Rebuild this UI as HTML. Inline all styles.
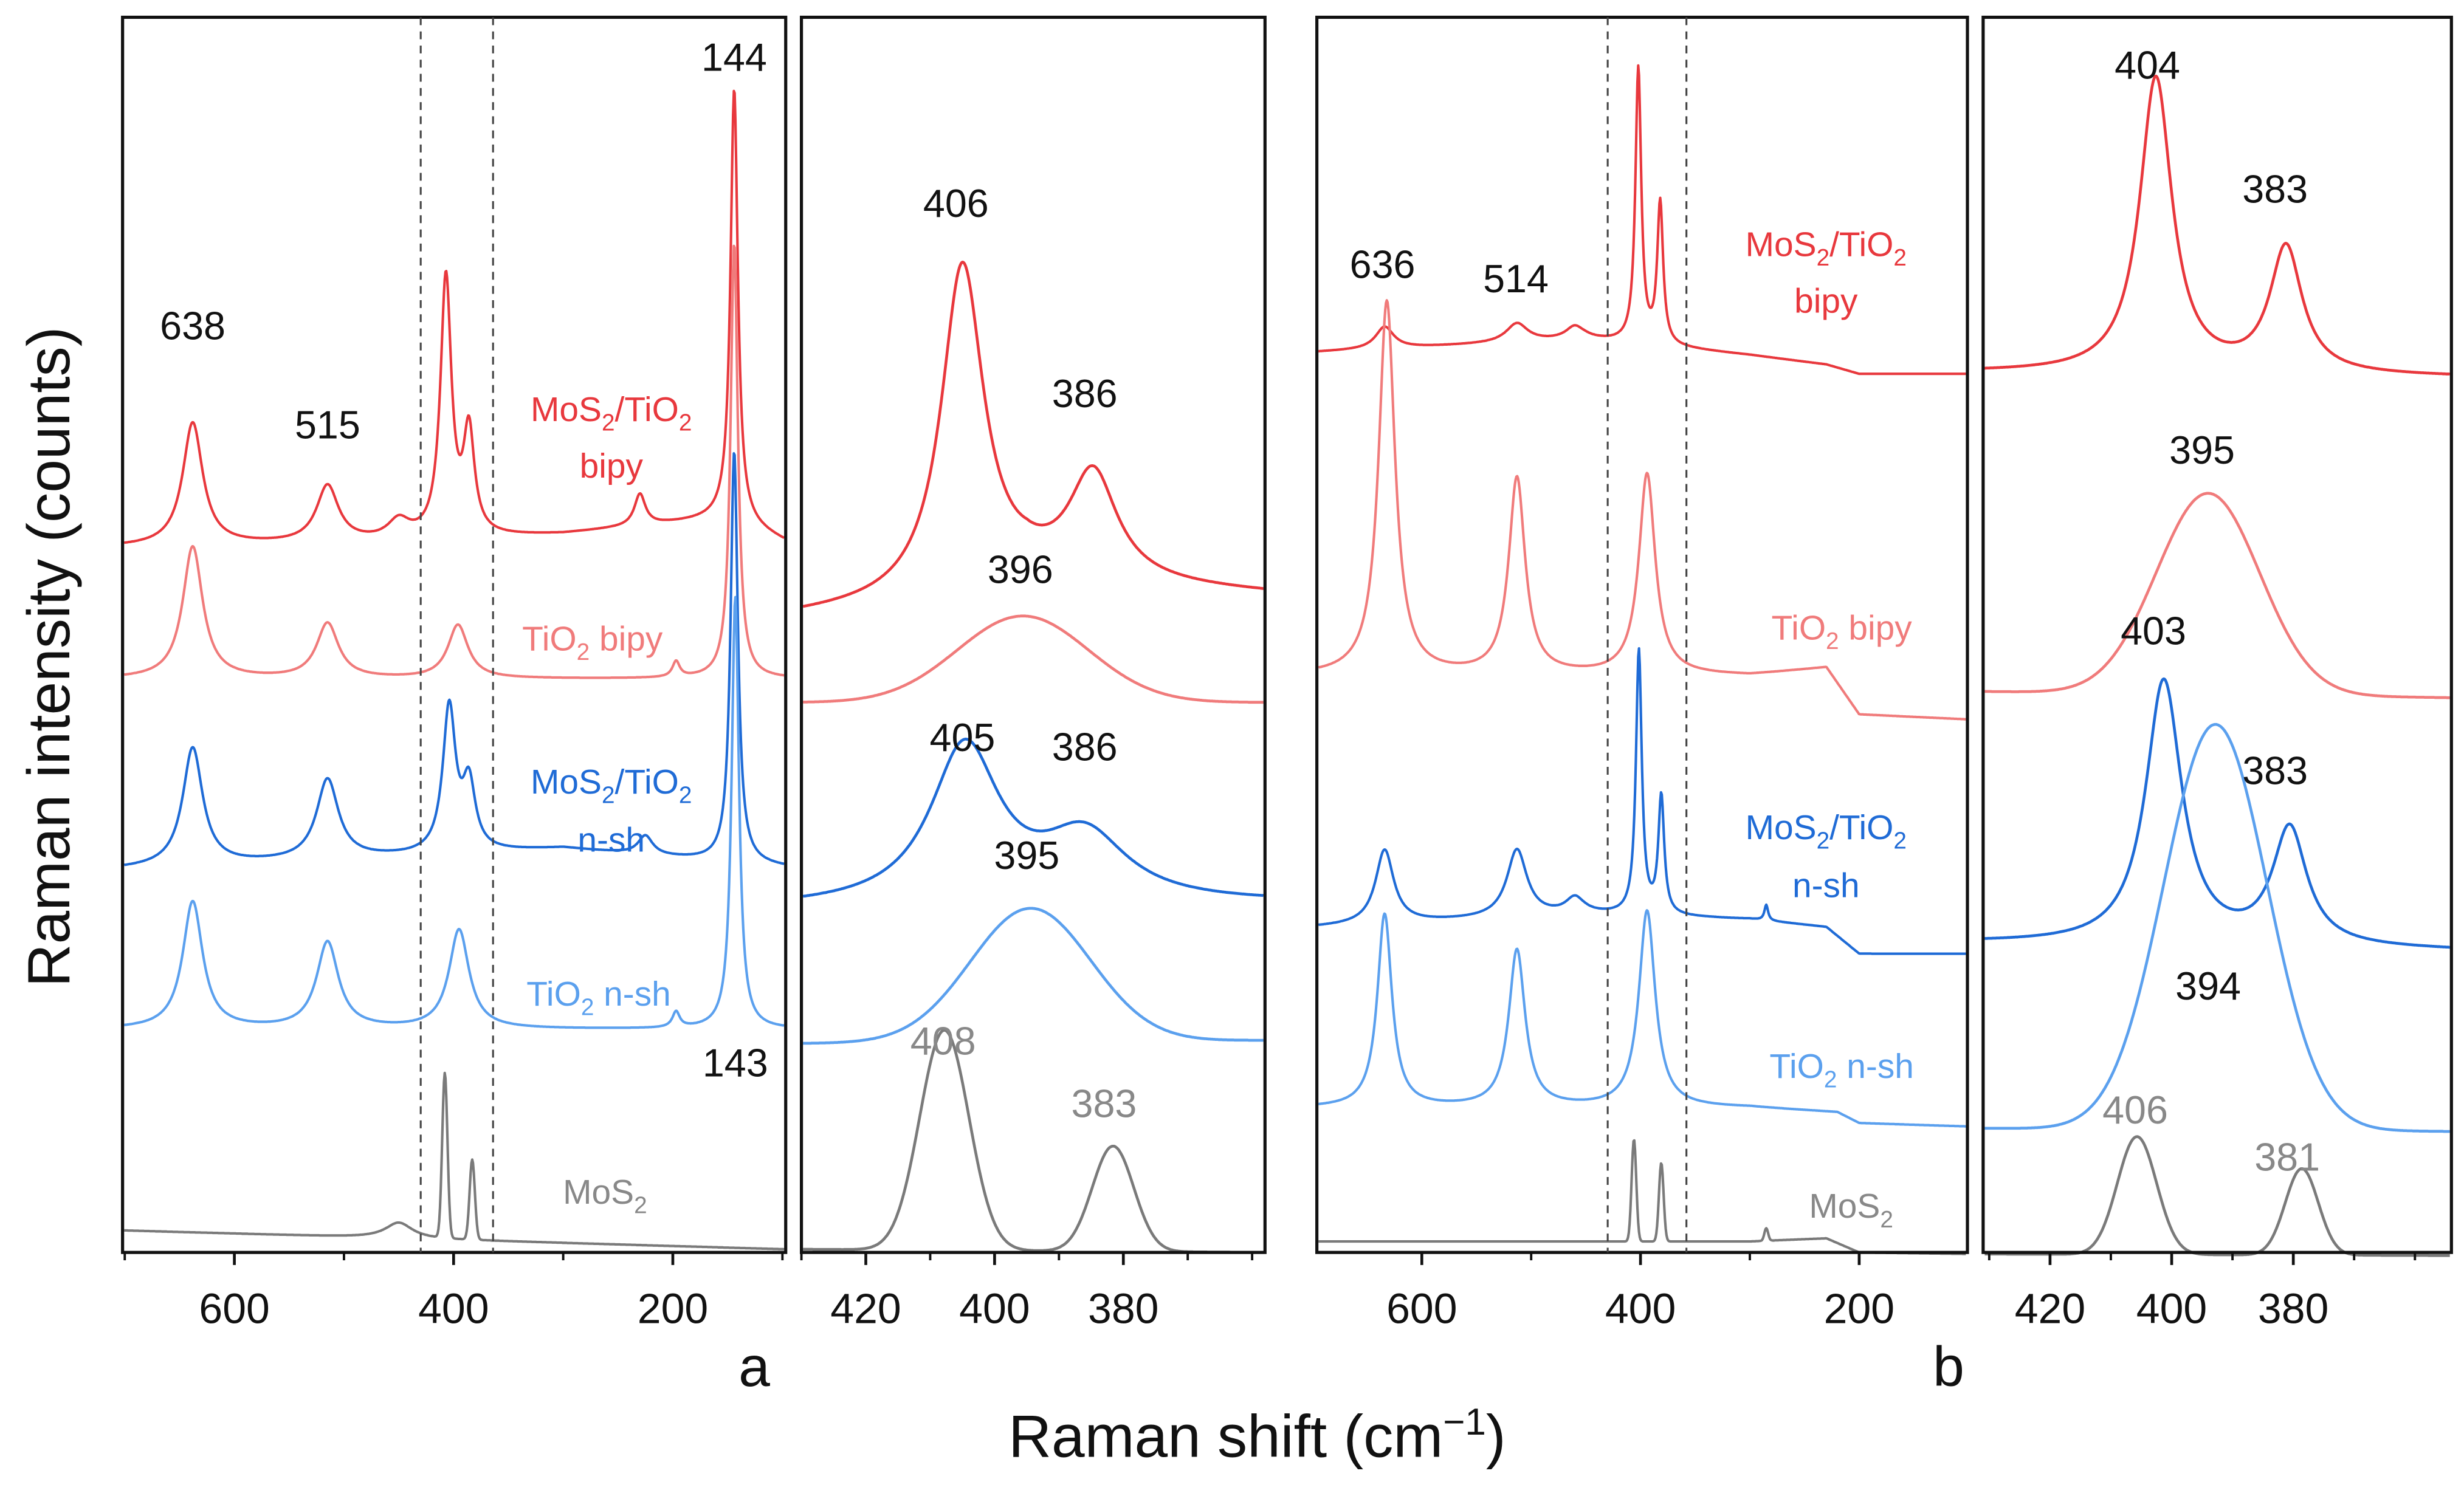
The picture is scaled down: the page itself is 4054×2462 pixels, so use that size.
<!DOCTYPE html>
<html><head><meta charset="utf-8"><style>
html,body{margin:0;padding:0;background:#fff}
svg{display:block}
text{font-family:"Liberation Sans",sans-serif}
</style></head><body>
<svg id="fig" width="4054" height="2462" viewBox="0 0 1568 952" preserveAspectRatio="none" xmlns="http://www.w3.org/2000/svg"></svg>
<script>
// ---- data ----
const panelRanges = [[702,97],[430,358],[696,101],[431,354]];
const panelTicks = [[600,400,200],[420,400,380],[600,400,200],[420,400,380]];
const seriesNames = ['mos2-tio2-bipy','tio2-bipy','mos2-tio2-nsh','tio2-nsh','mos2'];
const seriesColors = ['#e8383d','#f07b7b','#1f6bd6','#5ba0ee','#7a7a7a'];
// baselines: [shift, y] knots per panel per series
const baseP1 = [
 [[702,348],[450,345],[300,340],[230,335],[150,330],[97,345]],
 [[702,432],[97,432]],
 [[702,553],[440,545],[300,540],[97,552]],
 [[702,655],[97,655]],
 [[702,783],[97,795]]];
const peaksP1 = [ // [pos, height, hwhm, gauss?]
 [[638,78,11,0],[515,36,12,0],[450,12,12,0],[407,165,6,0],[386,65,6,0],[230,20,6,0],[144,275,4,0]],
 [[638,84,11,0],[515,35,12,0],[396,34,11,0],[197,10,4,0],[144,277,4,0]],
 [[638,75,11,0],[515,51,12,0],[404,92,7,0],[386,42,7,0],[225,12,8,0],[144,262,4,0]],
 [[638,81,11,0],[515,55,12,0],[395,63,11,0],[197,10,4,0],[143,275,4,0]],
 [[450,10,15,0],[408,105,2.8,1],[383,51,2.8,1]]];
const baseP2 = [
 [[430,392],[410,385],[395,370],[358,378]],
 [[430,447],[358,447]],
 [[430,578],[358,575]],
 [[430,664],[358,662]],
 [[430,795],[358,797]]];
const peaksP2 = [
 [[405,210,4,0],[384.7,68,4.5,0]],
 [[395.6,55,12,1]],
 [[404.6,100,6.5,0],[386,42,8,0]],
 [[394.4,85,11,1]],
 [[407.8,140,4.5,1],[381.6,67,3.8,1]]];
const baseP3 = [
 [[696,224],[450,216],[300,226],[230,232],[200,238],[101,238]],
 [[696,430],[300,430],[230,425],[200,455],[101,458]],
 [[696,590],[450,582],[300,585],[230,590],[200,607],[101,607]],
 [[696,705],[300,705],[220,708],[200,715],[101,717]],
 [[696,790],[300,790],[230,788],[200,797],[101,798]]];
const peaksP3 = [
 [[634,14,10,0],[513,12,12,0],[460,8,10,0],[402,175,3.2,0],[382,90,3.2,0]],
 [[632,238,9,0],[513,125,9,0],[394,128,9,0]],
 [[634,47,10,0],[513,43,11,0],[460,10,10,0],[401.5,168,3.2,0],[381,75,3.2,0],[285,10,2,0]],
 [[634,123,8,0],[513,100,9,0],[394,125,9,0]],
 [[406,65,2.5,1],[381,50,2.5,1],[285,8,2,1]]];
const baseP4 = [
 [[431,237],[354,240]],
 [[431,440],[354,444]],
 [[431,600],[354,605]],
 [[431,718],[354,720]],
 [[431,798],[354,799]]];
const peaksP4 = [
 [[402.6,188,3.2,0],[381.2,80,3.2,0]],
 [[394,128,10,1]],
 [[401.3,168,3.6,0],[380.6,74,3.4,0]],
 [[392.8,258,10,1]],
 [[405.7,75,3.8,1],[378.6,55,3.2,1]]];
const panelBases=[baseP1,baseP2,baseP3,baseP4];
const panelPeaks=[peaksP1,peaksP2,peaksP3,peaksP4];
const peakLabels = [ // [panel, shift, y, text, color]
 [0,638,216,'638','#111'],[0,515,279,'515','#111'],[0,144,45,'144','#111'],[0,143,685,'143','#111'],
 [1,406,138,'406','#111'],[1,386,259,'386','#111'],[1,396,371,'396','#111'],[1,405,478,'405','#111'],[1,386,484,'386','#111'],[1,395,553,'395','#111'],[1,408,671,'408','#888'],[1,383,711,'383','#888'],
 [2,636,177,'636','#111'],[2,514,186,'514','#111'],
 [3,404,50,'404','#111'],[3,383,129,'383','#111'],[3,395,295,'395','#111'],[3,403,410,'403','#111'],[3,383,499,'383','#111'],[3,394,636,'394','#111'],[3,406,715,'406','#888'],[3,381,745,'381','#888']];
// ---- drawing ----
const NS='http://www.w3.org/2000/svg';
const svg=document.getElementById('fig');
const frames=[[78,500],[510,805],[838,1252],[1262,1560]];
const TOP=11,BOT=797;
function el(t,a,p){const e=document.createElementNS(NS,t);for(const k in a)e.setAttribute(k,a[k]);(p||svg).appendChild(e);return e;}
function xs(p,v){const [a,b]=panelRanges[p];const [l,r]=frames[p];return l+(a-v)/(a-b)*(r-l);}
function interp(knots,v){for(let i=0;i<knots.length-1;i++){const [a,ya]=knots[i],[b,yb]=knots[i+1];if(v<=a&&v>=b)return ya+(yb-ya)*(a-v)/(a-b);}return knots[knots.length-1][1];}
function prof(pk,v){const d=(v-pk[0])/pk[2];return pk[3]?pk[1]*Math.exp(-0.693*d*d):pk[1]/(1+d*d);}
for(let p=0;p<4;p++){
 const g=el('g',{});
 
 
 const [l,r]=frames[p];
 for(let s=0;s<5;s++){
  let d='';
  for(let x=l+1;x<=r-1;x+=0.5){
   const [a,b]=panelRanges[p];const v=a-(x-l)/(r-l)*(a-b);
   let y=interp(panelBases[p][s],v);
   for(const pk of panelPeaks[p][s])y-=prof(pk,v);
   d+=(d?'L':'M')+x.toFixed(1)+' '+y.toFixed(1);
  }
  const path=el('path',{d:d,fill:'none',stroke:seriesColors[s],'stroke-width':p%2?1.8:1.6,'stroke-linejoin':'round'},g);
  
  
 }
 const fr=el('rect',{x:l,y:TOP,width:r-l,height:BOT-TOP,fill:'none',stroke:'#111','stroke-width':2},g);
 
 
 for(const t of panelTicks[p]){
  const x=xs(p,t);
  el('line',{x1:x,x2:x,y1:BOT,y2:BOT+8,stroke:'#111','stroke-width':1.8},g);
  const tx=el('text',{x:x,y:842,'font-size':27,'text-anchor':'middle',fill:'#111'},g);
  tx.textContent=t;
  
  
 }
 const step=(p%2)?10:100;const [a,b]=panelRanges[p];
 for(let t=Math.ceil(b/step)*step;t<=a;t+=step){if(panelTicks[p].includes(t))continue;const x=xs(p,t);el('line',{x1:x,x2:x,y1:BOT,y2:BOT+5,stroke:'#111','stroke-width':1.5},g);}
}
// dashed lines
for(const [p,v] of [[0,430],[0,364],[2,430],[2,358]]){
 const x=xs(p,v);
 const ln=el('line',{x1:x,x2:x,y1:TOP,y2:BOT,stroke:'#444','stroke-width':1.2,'stroke-dasharray':'5,4'});
 
 
}
for(const [p,v,y,t,c] of peakLabels){
 const tx=el('text',{x:xs(p,v),y:y,'font-size':25,'text-anchor':'middle',fill:c});
 tx.textContent=t;
 
 
}
</script>
<script>
// series name labels (with subscripts)
(function(){
const NS='http://www.w3.org/2000/svg';const svg=document.getElementById('fig');
const labs=[[389,268,'MoS|2|/TiO|2|','#e8383d'],[389,304,'bipy','#e8383d'],[377,414,'TiO|2| bipy','#f07b7b'],
[389,505,'MoS|2|/TiO|2|','#1f6bd6'],[389,542,'n-sh','#1f6bd6'],[381,640,'TiO|2| n-sh','#5ba0ee'],[385,766,'MoS|2|','#888'],
[1162,163,'MoS|2|/TiO|2|','#e8383d'],[1162,199,'bipy','#e8383d'],[1172,407,'TiO|2| bipy','#f07b7b'],
[1162,534,'MoS|2|/TiO|2|','#1f6bd6'],[1162,571,'n-sh','#1f6bd6'],[1172,686,'TiO|2| n-sh','#5ba0ee'],[1178,775,'MoS|2|','#888']];
for(const [x,y,s,c] of labs){
 const t=document.createElementNS(NS,'text');
 t.setAttribute('x',x);t.setAttribute('y',y);t.setAttribute('font-size',22);t.setAttribute('text-anchor','middle');t.setAttribute('fill',c);
 s.split('|').forEach((part,i)=>{const ts=document.createElementNS(NS,'tspan');ts.textContent=part;if(i%2){ts.setAttribute('font-size',15);ts.setAttribute('dy',6);}else if(i>0){ts.setAttribute('dy',-6);}t.appendChild(ts);});
 
 
 svg.appendChild(t);
}
})();
</script>
<svg style="position:absolute;left:0;top:0" width="4054" height="2462" viewBox="0 0 1568 952" preserveAspectRatio="none" xmlns="http://www.w3.org/2000/svg">
 <text x="0" y="0" transform="translate(44,418) rotate(-90)" font-size="38" text-anchor="middle" fill="#111" font-family="Liberation Sans, sans-serif">Raman intensity (counts)</text>
 <text x="800" y="927" font-size="38" text-anchor="middle" fill="#111" font-family="Liberation Sans, sans-serif">Raman shift (cm<tspan font-size="24" dy="-14">−1</tspan><tspan dy="14">)</tspan></text>
 <text x="480" y="882" font-size="36" text-anchor="middle" fill="#111" font-family="Liberation Sans, sans-serif">a</text>
 <text x="1240" y="882" font-size="36" text-anchor="middle" fill="#111" font-family="Liberation Sans, sans-serif">b</text>
</svg>
</body></html>
